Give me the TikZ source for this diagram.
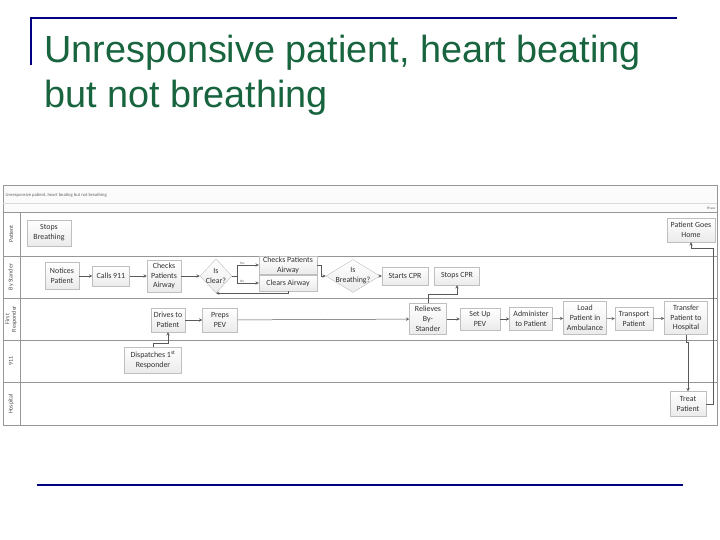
\documentclass[tikz,border=0pt]{standalone}
\usepackage{fontspec}
\setmainfont{Liberation Sans}
\newfontfamily\chartfont{Carlito}
\usetikzlibrary{shapes.geometric, arrows}

\definecolor{titlegreen}{RGB}{24,100,62}
\definecolor{slideblue}{RGB}{0,0,128}
\definecolor{lanegray}{RGB}{150,150,150}

\begin{document}
\begin{tikzpicture}[x=1pt, y=-1pt]
\tikzstyle{task} = [rectangle, draw=gray!50, top color=white, bottom color=gray!16, font=\chartfont\fontsize{7.9}{9.8}\selectfont, text=black!80, align=center, inner sep=1pt]
\tikzstyle{decision} = [diamond, draw=gray!50, top color=white, bottom color=gray!16, inner sep=0pt]
\tikzstyle{dectext} = [font=\chartfont\fontsize{7.9}{9.8}\selectfont, text=black!80, align=center]
\tikzstyle{lanelabel} = [rotate=90, font=\chartfont\fontsize{6}{6.6}\selectfont, align=center, text=black!70]
\tikzstyle{tiny} = [font=\chartfont\fontsize{3.5}{4}\selectfont, text=black!60, inner sep=0.5pt]
\tikzstyle{lane} = [draw=lanegray, line width=0.6pt]
\tikzstyle{arrow} = [->, >=stealth, draw=black!65, line width=0.5pt]

\useasboundingbox (0,0) rectangle (720,540);

% slide frame and title
\draw [slideblue, line width=2.6pt] (30,18) -- (677,18);
\draw [slideblue, line width=2.4pt] (31,17) -- (31,65);
\draw [slideblue, line width=2.6pt] (37,485) -- (683,485);
\node (title1) [anchor=base west, inner sep=0pt, text=titlegreen, font=\fontsize{37.8}{45}\selectfont] at (44,63) {Unresponsive patient, heart beating};
\node (title2) [anchor=base west, inner sep=0pt, text=titlegreen, font=\fontsize{37.8}{45}\selectfont] at (44,108) {but not breathing};

% swimlanes
\draw [lane, fill=gray!3] (3,185) rectangle (717,212);
\draw [draw=gray!30] (3,203) -- (717,203);
\draw [lane] (3,212) rectangle (717,425);
\foreach \y in {256,298,340,382}
  \draw [lane] (3,\y) -- (717,\y);
\draw [lane] (20,212) -- (20,425);
\node (head) [tiny, anchor=west, font=\chartfont\fontsize{4.6}{5}\selectfont] at (5,195) {Unresponsive patient, heart beating but not breathing};
\node (phase) [tiny, anchor=east] at (716,208) {Phase};
\node (lpat) [lanelabel] at (11,234) {Patient};
\node (lby) [lanelabel] at (11,277) {By Stander};
\node (lfr) [lanelabel] at (11,319) {First\\Responder};
\node (l911) [lanelabel] at (11,361) {911};
\node (lhos) [lanelabel] at (11,404) {Hospital};

% tasks
\node (sb) [task, minimum width=44pt, minimum height=26pt] at (49,233) {Stops\\Breathing};
\node (np) [task, minimum width=34pt, minimum height=27pt] at (62,276) {Notices\\Patient};
\node (c911) [task, minimum width=37pt, minimum height=20pt] at (111,276) {Calls 911};
\node (cpa) [task, minimum width=34pt, minimum height=32pt] at (164,276) {Checks\\Patients\\Airway};
\node (ic) [decision, minimum width=32pt, minimum height=34pt, label={[dectext]center:Is\\Clear?}] at (216,276) {};
\node (cpa2) [task, minimum width=58pt, minimum height=16pt] at (288,265) {Checks Patients\\Airway};
\node (ca) [task, minimum width=58pt, minimum height=16pt] at (288,283) {Clears Airway};
\node (ib) [decision, minimum width=54pt, minimum height=33pt, label={[dectext]center:Is\\Breathing?}] at (353,276) {};
\node (scpr) [task, minimum width=46pt, minimum height=18pt] at (405,276) {Starts CPR};
\node (stcpr) [task, minimum width=45pt, minimum height=18pt] at (457,276) {Stops CPR};
\node (pgh) [task, minimum width=48pt, minimum height=24pt] at (691,230) {Patient Goes\\Home};

\node (dtp) [task, minimum width=34pt, minimum height=24pt] at (168,320) {Drives to\\Patient};
\node (pp) [task, minimum width=35pt, minimum height=24pt] at (220,320) {Preps\\PEV};
\node (rbs) [task, minimum width=37pt, minimum height=31pt] at (428,319) {Relieves\\By-\\Stander};
\node (sup) [task, minimum width=40pt, minimum height=22pt] at (480,319) {Set Up\\PEV};
\node (atp) [task, minimum width=43pt, minimum height=23pt] at (531,319) {Administer\\to Patient};
\node (lpa) [task, minimum width=43pt, minimum height=33pt] at (585,318) {Load\\Patient in\\Ambulance};
\node (tp) [task, minimum width=38pt, minimum height=23pt] at (634,319) {Transport\\Patient};
\node (tph) [task, minimum width=43pt, minimum height=33pt] at (686,318) {Transfer\\Patient to\\Hospital};

\node (d1) [task, minimum width=57pt, minimum height=26pt] at (153,360) {Dispatches 1\textsuperscript{st}\\Responder};
\node (tr) [task, minimum width=36pt, minimum height=25pt] at (688,404) {Treat\\Patient};

% connectors
\draw [arrow] (np) -- (c911);
\draw [arrow] (c911) -- (cpa);
\draw [arrow] (cpa) -- (ic);
\coordinate (split) at (237,276);
\draw [draw=black!65, line width=0.5pt] (ic.east) -- (split);
\draw [arrow] (split) |- (cpa2.west) node [tiny, pos=0.62, above] {Yes};
\draw [arrow] (split) |- (ca.west) node [tiny, pos=0.62, above] {No};
\draw [arrow] (ca.south) |- (ic.south);
\draw [arrow] (cpa2.east) -- ++(4,0) |- (ib.west);
\draw [arrow] (ib) -- (scpr);
\draw [arrow] (rbs.north) -- ++(0,-9) -| (stcpr.south);

\draw [arrow] (d1.north) -- ++(0,-4) -| (dtp.south);
\draw [arrow] (dtp) -- (pp);
\draw [arrow] (pp) -- (rbs);
\draw [arrow] (rbs) -- (sup);
\draw [arrow] (sup) -- (atp);
\draw [arrow] (atp) -- (lpa);
\draw [arrow] (lpa) -- (tp);
\draw [arrow] (tp) -- (tph);
\draw [arrow] (tph.south) -- ++(0,8) -| (tr.north);
\coordinate (rturn) at (713,248);
\draw [arrow] (tr.east) -| (rturn) -| (pgh.south);

\end{tikzpicture}
\end{document}
